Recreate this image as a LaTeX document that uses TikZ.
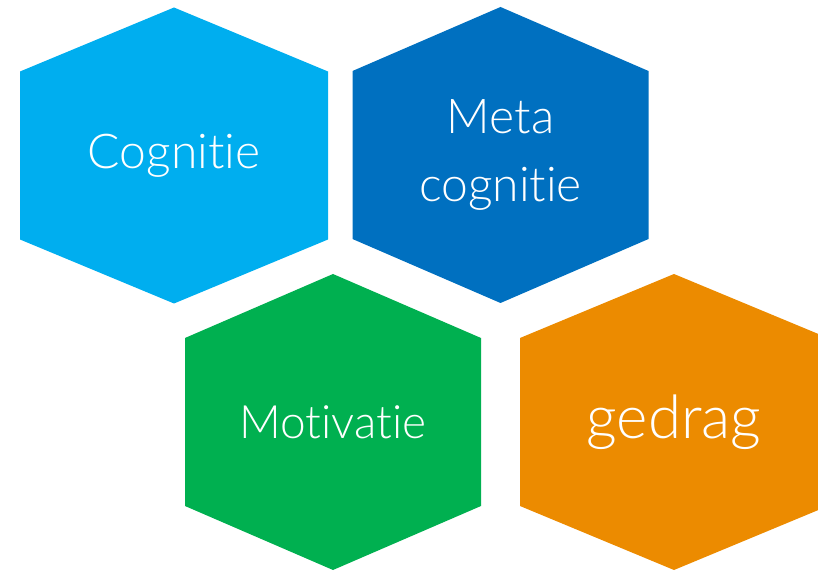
\documentclass[tikz,border=0pt]{standalone}
\usepackage{fontspec}
\setmainfont{Lato Light}[Ligatures=CommonOff]
\usetikzlibrary{positioning}
\definecolor{cogblue}{RGB}{0,174,239}
\definecolor{metablue}{RGB}{0,112,192}
\definecolor{motgreen}{RGB}{0,176,80}
\definecolor{gedorange}{RGB}{236,139,0}
\tikzset{
  x=1pt, y=1pt,
  hextext/.style={text=white, inner sep=0pt, align=center,
    font=\fontsize{48}{68}\selectfont},
}

\begin{document}
\begin{tikzpicture}
		\useasboundingbox (0,0) rectangle (818,570);
		\clip (0,0) rectangle (818,570);

		% centres
		\coordinate (cog) at (174,414.5);
		\coordinate (meta) at (500.5,415);
		\coordinate (mot) at (333,148);
		\coordinate (ged) at (674,148);

		% hexagons
		\foreach \c/\w/\col in {cog/154/cogblue, meta/148/metablue,
			mot/148/motgreen, ged/154/gedorange}
		\fill[\col] ([yshift=148pt]\c) -- ([shift={(\w,84)}]\c)
			-- ([shift={(\w,-84)}]\c) -- ([yshift=-148pt]\c)
			-- ([shift={(-\w,-84)}]\c) -- ([shift={(-\w,84)}]\c) -- cycle;

		% labels
		\node[hextext] (cogtext) at (cog) {Cognitie};
		\node[hextext] (metatext) at (meta) {Meta\\cognitie};
		\node[hextext, font=\fontsize{46}{68}\selectfont] (mottext) at (mot) {Motivatie};
		\node[hextext, font=\fontsize{60}{68}\selectfont] (gedtext) at (ged) {gedrag};

	\end{tikzpicture}
\end{document}
